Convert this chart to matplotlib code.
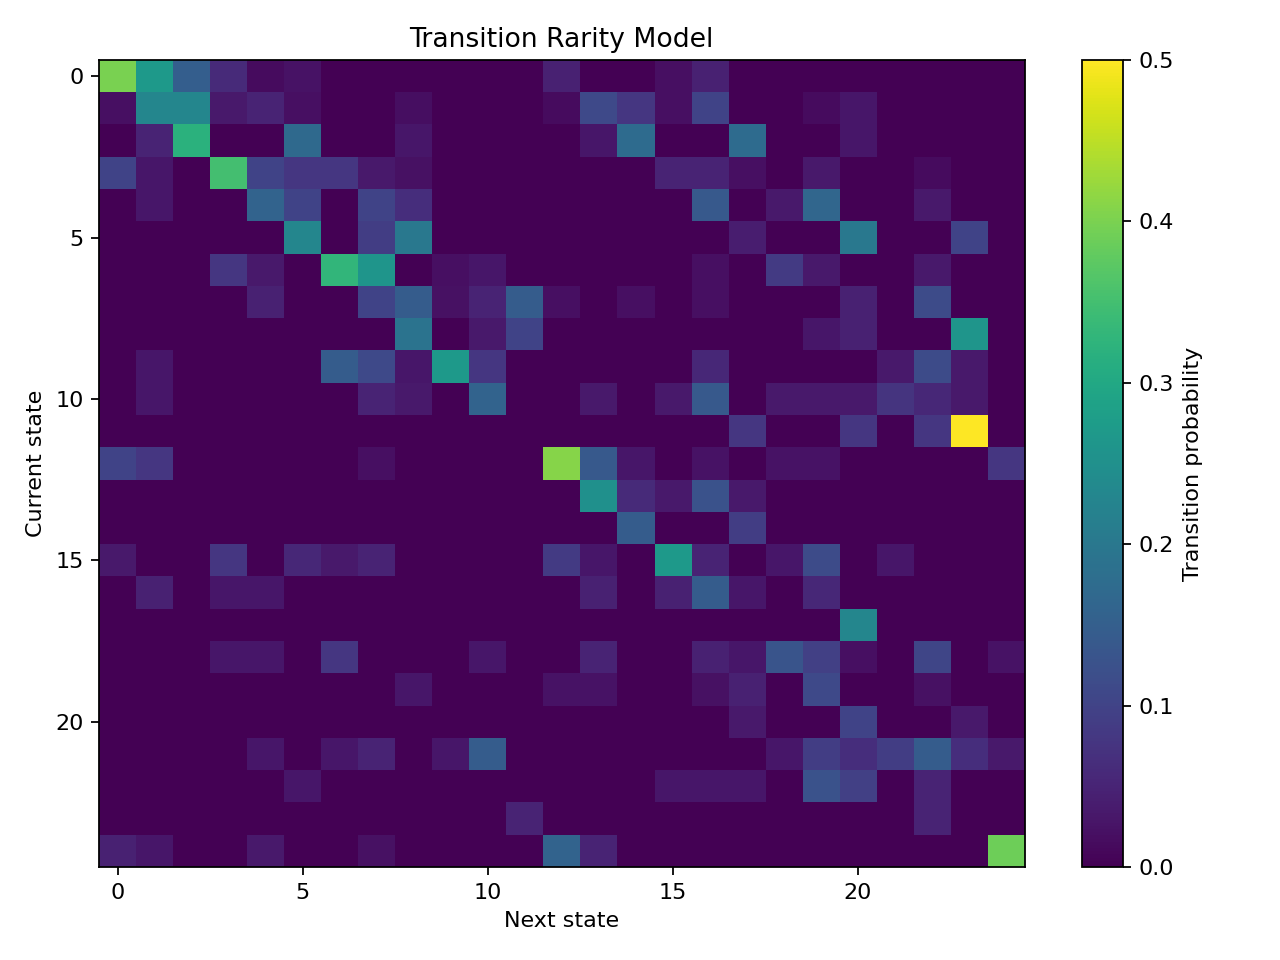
import numpy as np
import matplotlib
matplotlib.use("Agg")
import matplotlib.pyplot as plt

title = "Transition Rarity Model"
xlabel = "Next state"
ylabel = "Current state"
cbar_label = "Transition probability"

# rows = current state, cols = next state
P = [
    [0.40, 0.27, 0.15, 0.06, 0.015, 0.025, 0, 0, 0, 0, 0, 0, 0.045, 0, 0, 0.02, 0.045, 0, 0, 0, 0, 0, 0, 0, 0],
    [0.02, 0.23, 0.23, 0.035, 0.05, 0.02, 0, 0, 0.018, 0, 0, 0, 0.015, 0.11, 0.08, 0.02, 0.10, 0, 0, 0.015, 0.03, 0, 0, 0, 0],
    [0, 0.05, 0.32, 0, 0, 0.17, 0, 0, 0.03, 0, 0, 0, 0, 0.03, 0.175, 0, 0, 0.175, 0, 0, 0.03, 0, 0, 0, 0],
    [0.10, 0.03, 0, 0.35, 0.10, 0.08, 0.08, 0.035, 0.022, 0, 0, 0, 0, 0, 0, 0.05, 0.05, 0.02, 0, 0.035, 0, 0, 0.015, 0, 0],
    [0, 0.03, 0, 0, 0.16, 0.10, 0, 0.10, 0.065, 0, 0, 0, 0, 0, 0, 0, 0.14, 0, 0.035, 0.165, 0, 0, 0.035, 0, 0],
    [0, 0, 0, 0, 0, 0.23, 0, 0.09, 0.20, 0, 0, 0, 0, 0, 0, 0, 0, 0.04, 0, 0, 0.20, 0, 0, 0.10, 0],
    [0, 0, 0, 0.08, 0.035, 0, 0.33, 0.26, 0, 0.02, 0.03, 0, 0, 0, 0, 0, 0.02, 0, 0.085, 0.035, 0, 0, 0.035, 0, 0],
    [0, 0, 0, 0, 0.045, 0, 0, 0.10, 0.145, 0.022, 0.05, 0.145, 0.02, 0, 0.02, 0, 0.02, 0, 0, 0, 0.045, 0, 0.115, 0, 0],
    [0, 0, 0, 0, 0, 0, 0, 0, 0.19, 0, 0.035, 0.10, 0, 0, 0, 0, 0, 0, 0, 0.03, 0.045, 0, 0, 0.26, 0],
    [0, 0.03, 0, 0, 0, 0, 0.145, 0.11, 0.03, 0.27, 0.08, 0, 0, 0, 0, 0, 0.055, 0, 0, 0, 0, 0.035, 0.115, 0.035, 0],
    [0, 0.03, 0, 0, 0, 0, 0, 0.05, 0.035, 0, 0.16, 0, 0, 0.035, 0, 0.035, 0.14, 0, 0.035, 0.035, 0.035, 0.075, 0.055, 0.035, 0],
    [0, 0, 0, 0, 0, 0, 0, 0, 0, 0, 0, 0, 0, 0, 0, 0, 0, 0.08, 0, 0, 0.08, 0, 0.08, 0.50, 0],
    [0.10, 0.08, 0, 0, 0, 0, 0, 0.02, 0, 0, 0, 0, 0.41, 0.14, 0.03, 0, 0.025, 0, 0.025, 0.025, 0, 0, 0, 0, 0.08],
    [0, 0, 0, 0, 0, 0, 0, 0, 0, 0, 0, 0, 0, 0.25, 0.06, 0.035, 0.125, 0.035, 0, 0, 0, 0, 0, 0, 0],
    [0, 0, 0, 0, 0, 0, 0, 0, 0, 0, 0, 0, 0, 0, 0.145, 0, 0, 0.09, 0, 0, 0, 0, 0, 0, 0],
    [0.035, 0, 0, 0.08, 0, 0.055, 0.035, 0.05, 0, 0, 0, 0, 0.085, 0.03, 0, 0.27, 0.05, 0, 0.03, 0.115, 0, 0.03, 0, 0, 0],
    [0, 0.045, 0, 0.03, 0.03, 0, 0, 0, 0, 0, 0, 0, 0, 0.045, 0, 0.045, 0.145, 0.03, 0, 0.055, 0, 0, 0, 0, 0],
    [0, 0, 0, 0, 0, 0, 0, 0, 0, 0, 0, 0, 0, 0, 0, 0, 0, 0, 0, 0, 0.23, 0, 0, 0, 0],
    [0, 0, 0, 0.03, 0.03, 0, 0.08, 0, 0, 0, 0.03, 0, 0, 0.05, 0, 0, 0.045, 0.03, 0.13, 0.095, 0.02, 0, 0.105, 0, 0.025],
    [0, 0, 0, 0, 0, 0, 0, 0, 0.03, 0, 0, 0, 0.025, 0.025, 0, 0, 0.022, 0.045, 0, 0.11, 0, 0, 0.022, 0, 0],
    [0, 0, 0, 0, 0, 0, 0, 0, 0, 0, 0, 0, 0, 0, 0, 0, 0, 0.035, 0, 0, 0.10, 0, 0, 0.035, 0],
    [0, 0, 0, 0, 0.03, 0, 0.03, 0.05, 0, 0.03, 0.145, 0, 0, 0, 0, 0, 0, 0, 0.03, 0.09, 0.065, 0.09, 0.145, 0.065, 0.035],
    [0, 0, 0, 0, 0, 0.03, 0, 0, 0, 0, 0, 0, 0, 0, 0, 0.03, 0.03, 0.03, 0, 0.125, 0.095, 0, 0.05, 0, 0],
    [0, 0, 0, 0, 0, 0, 0, 0, 0, 0, 0, 0.05, 0, 0, 0, 0, 0, 0, 0, 0, 0, 0, 0.05, 0, 0],
    [0.045, 0.03, 0, 0, 0.035, 0, 0, 0.022, 0, 0, 0, 0, 0.16, 0.05, 0, 0, 0, 0, 0, 0, 0, 0, 0, 0, 0.39],
]

fig, ax = plt.subplots(figsize=(8, 6), dpi=160)
im = ax.imshow(np.array(P), cmap="viridis", vmin=0, vmax=0.5, aspect="auto", interpolation="nearest")
cb = fig.colorbar(im, ax=ax)
cb.set_label(cbar_label)
ax.set_title(title)
ax.set_xlabel(xlabel)
ax.set_ylabel(ylabel)
fig.tight_layout()
fig.subplots_adjust(top=1 - 60 / 960, bottom=1 - 867 / 960, left=99 / 1280)
fig.savefig("out.png")
